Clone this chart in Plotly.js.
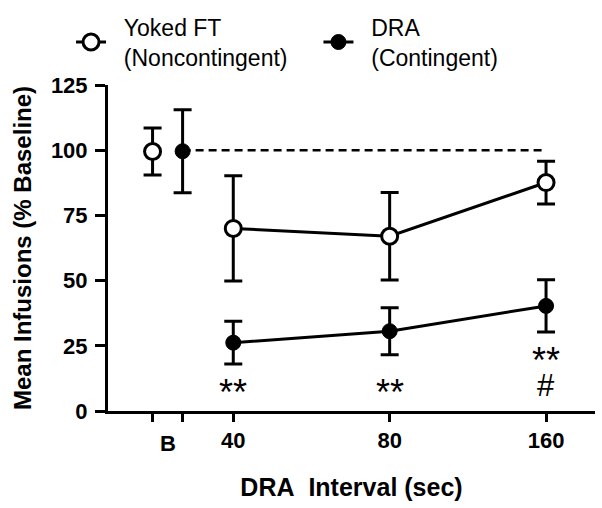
<!DOCTYPE html>
<html>
<head>
<meta charset="utf-8">
<script src="https://cdn.plot.ly/plotly-3.0.1.min.js"></script>
<style>html,body{margin:0;padding:0;background:#fff;}#chart{width:602px;height:508px;}</style>
</head>
<body>
<div id="chart"></div>
<script>
// ---- data ----
const categories = ["B", "40", "80", "160"];
const yokedMean = [99.5, 70.0, 67.0, 87.6];
const yokedSEM  = [9.0, 20.2, 16.8, 8.2];
const draMean   = [99.6, 26.2, 30.6, 40.3];
const draSEM    = [15.9, 8.2, 9.0, 10.0];
const baseline  = 100;
const sigStars  = ["", "**", "**", "**"];
const sigHash   = ["", "", "", "#"];
const seriesNames = ["Yoked FT<br>(Noncontingent)", "DRA<br>(Contingent)"];
const xTitle = "DRA\u00a0 Interval (sec)";
const yTitle = "Mean Infusions (% Baseline)";
const yTicks = [0, 25, 50, 75, 100, 125];

// ---- layout config (positions / styles) ----
const catPos = [0.58, 1, 2, 3];      // ordinal positions of categories on the x axis
const bOffset = 0.096;               // side-by-side offset of the two baseline points
const STAR_Y = 7.1, STAR_Y_HIGH = 19.4, HASH_Y = 9.6;   // annotation rows (axis units)
const FONT = "Liberation Sans, Arial, Helvetica, sans-serif";
const PAD = "\u00a0\u00a0";

const yokedX = catPos.map((p, i) => i === 0 ? p - bOffset : p);
const draX   = catPos.map((p, i) => i === 0 ? p + bOffset : p);

function errCfg(arr) {
  return {type: "data", array: arr, visible: true, color: "#000", thickness: 3, width: 9};
}
function legendName(s) { return s.split("<br>").map(t => PAD + t).join("<br>"); }

const traces = [];
traces.push({
  x: [draX[0], draX[3]], y: [baseline, baseline], mode: "lines",
  line: {color: "#000", width: 2.5, dash: "8px,5px"}, showlegend: false, hoverinfo: "skip"
});
traces.push({
  x: [yokedX[0]], y: [yokedMean[0]], error_y: errCfg([yokedSEM[0]]),
  mode: "markers", marker: {symbol: "circle", size: 16, color: "#fff", line: {color: "#000", width: 3}},
  showlegend: false
});
traces.push({
  x: [draX[0]], y: [draMean[0]], error_y: errCfg([draSEM[0]]),
  mode: "markers", marker: {symbol: "circle", size: 15, color: "#000", line: {color: "#000", width: 1}},
  showlegend: false
});
traces.push({
  x: yokedX.slice(1), y: yokedMean.slice(1), error_y: errCfg(yokedSEM.slice(1)),
  mode: "lines+markers", name: legendName(seriesNames[0]), legend: "legend",
  line: {color: "#000", width: 3},
  marker: {symbol: "circle", size: 16, color: "#fff", line: {color: "#000", width: 3}}
});
traces.push({
  x: draX.slice(1), y: draMean.slice(1), error_y: errCfg(draSEM.slice(1)),
  mode: "lines+markers", name: legendName(seriesNames[1]), legend: "legend2",
  line: {color: "#000", width: 3},
  marker: {symbol: "circle", size: 15, color: "#000", line: {color: "#000", width: 1}}
});

const annotations = [];
categories.forEach((c, i) => {
  if (sigStars[i]) annotations.push({
    x: catPos[i], y: sigHash[i] ? STAR_Y_HIGH : STAR_Y, xref: "x", yref: "y",
    text: sigStars[i], showarrow: false, font: {family: FONT, size: 36, color: "#000"},
    xanchor: "center", yanchor: "middle"
  });
  if (sigHash[i]) annotations.push({
    x: catPos[i], y: HASH_Y, xref: "x", yref: "y",
    text: sigHash[i], showarrow: false, font: {family: FONT, size: 31, color: "#000"},
    xanchor: "center", yanchor: "middle"
  });
});
annotations.push({
  x: catPos[0], y: 0, xref: "x", yref: "paper", yanchor: "top", yshift: -18,
  text: "<b>" + categories[0] + "</b>", showarrow: false,
  font: {family: FONT, size: 22, color: "#000"}
});
// y-axis title
annotations.push({
  x: 0, y: 0.5, xref: "paper", yref: "paper", xanchor: "center", yanchor: "middle",
  xshift: -86, textangle: -90, showarrow: false,
  text: "<b>" + yTitle + "</b>", font: {family: FONT, size: 24, color: "#000"}
});

function legendCfg(x) {
  return {
    orientation: "h", xref: "container", yref: "container",
    x: x, y: 0.989, xanchor: "left", yanchor: "top",
    font: {family: FONT, size: 23, color: "#000"}, valign: "middle",
    bgcolor: "rgba(0,0,0,0)", borderwidth: 0, itemclick: false
  };
}

const layout = {
  width: 602, height: 508,
  margin: {l: 108, r: 7, t: 85, b: 97},
  paper_bgcolor: "#fff", plot_bgcolor: "#fff",
  font: {family: FONT, color: "#000"},
  showlegend: true,
  legend: legendCfg(0.118),
  legend2: legendCfg(0.529),
  xaxis: {
    range: [0.199, 3.313], showgrid: false, zeroline: false,
    showline: true, linecolor: "#000", linewidth: 3,
    tickmode: "array", tickvals: [yokedX[0], draX[0], catPos[1], catPos[2], catPos[3]],
    ticktext: ["", "", "<b>" + categories[1] + "</b>", "<b>" + categories[2] + "</b>", "<b>" + categories[3] + "</b>"],
    ticks: "outside", ticklen: 8, tickwidth: 3, tickcolor: "#000",
    tickfont: {family: FONT, size: 22, color: "#000"},
    title: {text: "<b>" + xTitle + "</b>", font: {family: FONT, size: 25, color: "#000"}, standoff: 27},
    fixedrange: true
  },
  yaxis: {
    range: [0, 125], showgrid: false, zeroline: false,
    showline: true, linecolor: "#000", linewidth: 3,
    tickmode: "array", tickvals: yTicks,
    ticktext: yTicks.map(v => "<b>" + v + "</b>"),
    ticks: "outside", ticklen: 10, tickwidth: 3, tickcolor: "#000",
    ticklabelstandoff: 3,
    tickfont: {family: FONT, size: 22, color: "#000"},
    fixedrange: true
  },
  annotations: annotations
};

Plotly.newPlot("chart", traces, layout, {displayModeBar: false, staticPlot: true});
</script>
</body>
</html>
